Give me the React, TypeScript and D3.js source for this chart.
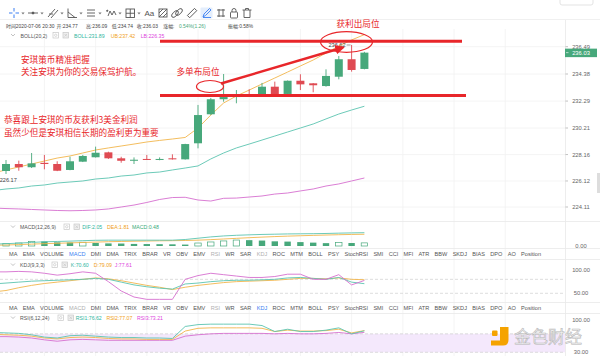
import React from 'react';
import * as d3 from 'd3';

// ---------- data (index 0 = candle just off the left edge) ----------
const openPrice = [226.50, 226.89, 227.43, 227.18, 227.52, 227.43, 226.97, 227.61, 227.95, 228.33, 227.87, 227.68, 227.82, 227.76, 227.87, 227.79, 229.03, 231.27, 232.43, 232.60, 232.76, 232.76, 233.40, 232.84, 233.86, 233.66, 233.45, 234.17, 235.52, 234.77];
const highPrice = [227.00, 227.74, 227.69, 228.28, 228.13, 227.64, 227.99, 228.13, 228.77, 228.38, 227.99, 227.94, 228.13, 227.94, 228.18, 228.99, 231.99, 232.53, 234.38, 233.14, 233.20, 233.69, 233.79, 233.88, 234.36, 233.68, 234.74, 235.77, 236.62, 236.09];
const lowPrice = [226.17, 226.66, 226.91, 227.12, 227.02, 226.88, 226.95, 227.58, 227.93, 227.82, 227.53, 227.43, 227.74, 227.72, 227.77, 227.77, 228.64, 231.21, 232.24, 232.12, 232.62, 232.74, 232.74, 232.82, 233.14, 232.97, 233.40, 233.97, 234.56, 234.74];
const closePrice = [226.85, 227.43, 227.18, 227.48, 227.43, 226.91, 227.64, 228.05, 228.30, 227.87, 227.68, 227.76, 227.76, 227.82, 227.79, 228.97, 231.21, 232.43, 232.60, 232.68, 232.68, 233.40, 232.76, 233.86, 233.58, 233.51, 234.23, 235.52, 234.69, 236.03];

const bollUB = [226.74, 226.97, 227.20, 227.43, 227.66, 227.89, 228.05, 228.28, 228.51, 228.67, 228.82, 228.97, 229.13, 229.25, 229.36, 229.48, 230.21, 231.21, 232.14, 232.68, 233.14, 233.61, 234.07, 234.53, 235.00, 235.46, 236.00, 236.54, 237.01, 237.42];
const bollMB = [225.38, 225.50, 225.58, 225.73, 225.81, 225.96, 226.04, 226.12, 226.27, 226.35, 226.50, 226.58, 226.74, 226.81, 226.97, 227.12, 227.28, 227.82, 228.28, 228.67, 228.97, 229.28, 229.59, 229.90, 230.21, 230.52, 230.91, 231.29, 231.60, 231.89];
const bollLB = [224.03, 223.99, 223.96, 223.92, 223.88, 223.84, 223.82, 223.84, 223.88, 223.96, 224.11, 224.26, 224.46, 224.69, 224.84, 224.86, 224.65, 224.57, 224.78, 224.80, 224.88, 224.96, 225.11, 225.19, 225.35, 225.50, 225.73, 225.89, 226.12, 226.35];

const macdDIF = [0.30, 0.35, 0.45, 0.55, 0.65, 0.70, 0.75, 0.82, 0.88, 0.90, 0.90, 0.90, 0.90, 0.90, 0.90, 1.00, 1.20, 1.40, 1.55, 1.65, 1.72, 1.78, 1.82, 1.86, 1.88, 1.90, 1.93, 1.98, 2.02, 2.05];
const macdDEA = [0.12, 0.15, 0.22, 0.29, 0.36, 0.42, 0.48, 0.54, 0.60, 0.66, 0.70, 0.74, 0.77, 0.80, 0.82, 0.85, 0.90, 0.98, 1.08, 1.18, 1.28, 1.37, 1.45, 1.52, 1.58, 1.64, 1.69, 1.74, 1.78, 1.81];
const macdHist = [0.36, 0.40, 0.46, 0.72, 0.70, 0.56, 0.54, 0.58, 0.46, 0.40, 0.38, 0.32, 0.30, 0.28, 0.26, 0.22, 0.46, 0.62, 0.78, 0.92, 0.90, 0.84, 0.72, 0.68, 0.60, 0.52, 0.44, 0.54, 0.46, 0.48];

const kdjK = [70, 72, 74, 76, 77, 78, 79, 80, 82, 80, 74, 68, 64, 61, 59, 70, 72, 75, 77, 78, 78, 79, 80, 83, 84, 82, 80, 84, 74, 70.6];
const kdjD = [53, 56, 62, 67, 71, 74, 77, 80, 83, 81, 77, 72, 67, 63, 58, 63, 67, 70, 73, 75, 76, 77, 78, 80, 82, 82, 81, 83, 80, 79.09];
const kdjJ = [96, 96, 97, 96, 93, 89, 92, 96, 93, 75, 55, 42, 37, 37, 37, 80, 88, 93, 90, 87, 84, 84, 86, 91, 91, 80, 80, 90, 68, 77.61];

const rsi1 = [73, 72, 71, 68, 63, 61, 66, 67, 65, 63, 62, 62, 61, 61, 60, 86, 90, 91, 91, 91, 91, 88, 75, 80, 75, 75, 78, 83, 70, 76.62];
const rsi2 = [69, 68, 67, 65, 61, 59, 62, 63, 62, 60, 59, 59, 58, 58, 58, 76, 82, 83, 83, 83, 83, 82, 75, 78, 76, 76, 77, 80, 72, 77.07];
const rsi3 = [64, 64, 63, 61, 57, 54, 57, 58, 57, 56, 56, 56, 56, 56, 56, 65, 68, 70, 71, 71, 71, 71, 70, 71, 70, 70, 71, 73, 70, 73.21];

const priceTicks = [236.49, 234.38, 232.29, 230.21, 228.16, 226.12, 224.11];
const kdjTicks = [100, 50];
const rsiTicks = [100, 30];
const indicatorTabs = ['MA', 'EMA', 'VOLUME', 'MACD', 'DMI', 'DMA', 'TRIX', 'BRAR', 'VR', 'OBV', 'EMV', 'RSI', 'WR', 'SAR', 'KDJ', 'ROC', 'MTM', 'BOLL', 'PSY', 'StochRSI', 'SMI', 'CCI', 'MFI', 'ATR', 'BBW', 'SKDJ', 'BIAS', 'DPO', 'AO', 'Position'];

// ---------- style ----------
const LAT = "'Liberation Sans', Arial, 'Noto Sans CJK SC', sans-serif";
const CJK = "'Noto Sans CJK SC', sans-serif";
const GREEN = '#47a87b';
const RED = '#df4a52';
const TEAL = '#5bc4b0';
const ORANGE = '#f2b64c';
const PINK = '#d66fcf';
const ANN = '#e8262a';
const GRID = '#f1f1f1';

const x = d3.scaleLinear().domain([0, 29]).range([-6.8, 364.4]);
const yMain = d3.scaleLinear().domain([224.11, 234.38]).range([207, 74]);
const yMacd = d3.scaleLinear().domain([0, 2.05]).range([246, 232.7]);
const yKdj = d3.scaleLinear().domain([50, 100]).range([293.3, 270]);
const yRsi = d3.scaleLinear().domain([30, 100]).range([352.3, 320]);

const mkLine = (y: (v: number) => number) =>
  d3.line<number>().x((_, i) => x(i)).y((d) => y(d));

function layoutTabs(labels: string[], font: string, x0: number, x1: number) {
  let widths = labels.map((l) => l.length * 3.2);
  try {
    const ctx = document.createElement('canvas').getContext('2d');
    if (ctx) {
      ctx.font = font;
      widths = labels.map((l) => ctx.measureText(l).width);
    }
  } catch (e) {}
  const total = d3.sum(widths);
  const gap = (x1 - x0 - total) / (labels.length - 1);
  let cur = x0;
  return widths.map((w) => {
    const p = cur;
    cur += w + gap;
    return p;
  });
}

function Caret({ cx }: { cx: number }) {
  return <path d={`M${cx - 1.6} 12.5 L${cx + 1.6} 12.5 L${cx} 14.5 Z`} fill="#777" />;
}

function Toolbar() {
  const s = { stroke: '#555', strokeWidth: 0.9, fill: 'none' } as const;
  return (
    <g>
      <g stroke="#3b7ff2" strokeWidth={1}>
        <line x1={14} y1={8} x2={14} y2={11.5} />
        <line x1={14} y1={14.5} x2={14} y2={18} />
        <line x1={9} y1={13} x2={12.5} y2={13} />
        <line x1={15.5} y1={13} x2={19} y2={13} />
      </g>
      <Caret cx={23} />
      <g {...s}>
        <line x1={28} y1={13} x2={38} y2={13} />
        <circle cx={33} cy={13} r={1} fill="#555" />
      </g>
      <Caret cx={42} />
      <g {...s}>
        <line x1={48} y1={17} x2={55} y2={9} />
        <line x1={51} y1={18} x2={58} y2={10} />
        <line x1={49} y1={14} x2={53} y2={14} />
      </g>
      <Caret cx={62} />
      <g {...s}>
        <path d="M68 8.5 L68 17.5 L77 17.5" />
        <path d="M68 12 L75 17.5" />
      </g>
      <Caret cx={81} />
      <g {...s}>
        <line x1={87} y1={10} x2={95} y2={10} />
        <line x1={87} y1={13} x2={95} y2={13} />
        <line x1={87} y1={16} x2={95} y2={16} />
      </g>
      <Caret cx={100} />
      <g {...s}>
        <path d="M106 11 L108 10 L107 12" />
        <path d="M108 16 L110 11 L112 15 L114 11 L116 15" />
      </g>
      <Caret cx={120} />
      <g {...s}>
        <rect x={126} y={9} width={8.5} height={8.5} />
        <line x1={130.25} y1={9} x2={130.25} y2={17.5} />
        <line x1={126} y1={13.25} x2={134.5} y2={13.25} />
      </g>
      <Caret cx={139} />
      <text x={144.5} y={16} fontSize={8} fontFamily={LAT} fill="#555">Aa</text>
      <g {...s}>
        <rect x={159} y={9} width={8} height={8} />
        <line x1={159} y1={13} x2={163} y2={9} />
        <line x1={159} y1={17} x2={167} y2={9} />
        <line x1={163} y1={17} x2={167} y2={13} />
      </g>
      <g {...s}>
        <ellipse cx={175} cy={14} rx={2.2} ry={4.2} transform="rotate(45 175 14)" />
        <ellipse cx={179} cy={12} rx={2.2} ry={4.2} transform="rotate(45 179 12)" />
      </g>
      <g {...s}>
        <rect x={187} y={11.5} width={10} height={3.2} transform="rotate(-45 192 13)" />
      </g>
      <rect x={200.5} y={7.5} width={12} height={11} rx={1} fill="#e4eefc" />
      <g stroke="#3b7ff2" strokeWidth={0.9} fill="none">
        <path d="M203 17 L204 14 L209.5 8.5 L211 10 L205.5 15.5 Z" />
        <line x1={203} y1={17.5} x2={211} y2={17.5} />
      </g>
      <g {...s}>
        <line x1={217} y1={10} x2={225} y2={10} />
        <line x1={217} y1={16} x2={225} y2={16} />
        <line x1={219} y1={9} x2={219} y2={17} />
        <line x1={223} y1={9} x2={223} y2={17} />
      </g>
      <g {...s}>
        <rect x={230.5} y={12} width={7} height={6} rx={0.8} />
        <path d="M232 12 V10.5 a2 2 0 0 1 4 0 V12" />
      </g>
      <g {...s}>
        <line x1={242.5} y1={10} x2={251.5} y2={10} />
        <path d="M244 10 V17.5 H250 V10" />
        <path d="M245.5 10 V8.5 H248.5 V10" />
      </g>
      <rect x={560} y={-4} width={33} height={9} rx={2} fill="#fff" stroke="#dcdcdc" strokeWidth={0.8} />
    </g>
  );
}

function LegendIcons({ x0 }: { x0: number }) {
  return (
    <g stroke="#c8c8c8" strokeWidth={0.7} fill="#fff">
      <rect x={x0} y={0} width={5.5} height={5.5} />
      <circle cx={x0 + 2.75} cy={2.75} r={1.2} />
      <rect x={x0 + 10} y={0} width={5.5} height={5.5} fill="#eee" />
      <path d={`M${x0 + 11.5} 1.5 L${x0 + 14} 4 M${x0 + 14} 1.5 L${x0 + 11.5} 4`} />
    </g>
  );
}

function Chevron({ x0, y0 }: { x0: number; y0: number }) {
  return <path d={`M${x0} ${y0} L${x0 + 2} ${y0 + 2} L${x0 + 4} ${y0}`} fill="none" stroke="#999" strokeWidth={0.6} />;
}

export default function App() {
  const tabFont = `5.6px 'Liberation Sans'`;
  const tabX = layoutTabs(indicatorTabs, tabFont, 9, 541);
  const idx = d3.range(openPrice.length);
  const gridIdx = d3.range(4, 41, 4);
  const bw = 8;

  const tabRow = (y: number, active: string) => (
    <g fontFamily={LAT} fontSize={5.6}>
      {indicatorTabs.map((t, i) => {
        let fill = '#555';
        if (t === active) fill = '#3b7ff2';
        else if (t === 'MACD' || t === 'RSI' || t === 'KDJ') fill = '#b0b0b0';
        return (
          <text key={t} x={tabX[i]} y={y} fill={fill}>{t}</text>
        );
      })}
    </g>
  );

  return (
    <svg width={600} height={356} style={{ position: 'absolute', left: 0, top: 0, background: '#fff' }}>
      <defs>
        <clipPath id="clipMain"><rect x={0} y={29} width={565} height={192} /></clipPath>
        <clipPath id="clipSub"><rect x={0} y={221} width={565} height={135} /></clipPath>
        <marker id="arrowHead" viewBox="0 0 10 10" refX={8} refY={5} markerWidth={4} markerHeight={4} orient="auto">
          <path d="M0 0 L10 5 L0 10 Z" fill={ANN} />
        </marker>
      </defs>
      <rect x={0} y={0} width={600} height={356} fill="#fff" />

      {/* toolbar */}
      <Toolbar />
      <line x1={0} x2={600} y1={19.5} y2={19.5} stroke="#f0f0f0" />

      {/* grid */}
      <g stroke={GRID} strokeWidth={0.8}>
        {gridIdx.map((g) => (
          <line key={g} x1={x(g)} x2={x(g)} y1={29} y2={356} />
        ))}
        {priceTicks.map((t) => (
          <line key={t} x1={0} x2={565} y1={yMain(t)} y2={yMain(t)} />
        ))}
      </g>

      {/* panel separators */}
      <g stroke="#e9e9e9" strokeWidth={0.8}>
        <line x1={0} x2={600} y1={221.5} y2={221.5} />
        <line x1={0} x2={600} y1={248.5} y2={248.5} />
        <line x1={0} x2={600} y1={259.5} y2={259.5} />
        <line x1={0} x2={600} y1={302.5} y2={302.5} />
        <line x1={0} x2={600} y1={313.5} y2={313.5} />
        <line x1={565.5} x2={565.5} y1={20} y2={356} />
      </g>

      {/* header */}
      <g fontFamily={LAT} fontSize={4.9} fill="#444">
        <text x={6} y={27.8}>时间2020-07-06 20:30</text>
        <text x={56.5} y={27.8}>开:234.77</text>
        <text x={86} y={27.8}>高:236.09</text>
        <text x={111.7} y={27.8}>低:234.74</text>
        <text x={136.7} y={27.8}>收:236.03</text>
        <text x={163.3} y={27.8}>涨幅:</text>
        <text x={179} y={27.8} fill={GREEN}>0.54%(1.26)</text>
        <text x={228} y={27.8}>振幅:0.58%</text>
      </g>

      {/* BOLL legend */}
      <Chevron x0={11} y0={34} />
      <text x={20.5} y={37.5} fontFamily={LAT} fontSize={5.2} fill="#555">BOLL(20,2)</text>
      <g transform="translate(53,32.5)"><LegendIcons x0={0} /></g>
      <g fontFamily={LAT} fontSize={5.2}>
        <text x={74} y={37.5} fill="#2fb5a0">BOLL:231.89</text>
        <text x={110.7} y={37.5} fill="#f0a020">UB:237.42</text>
        <text x={140.7} y={37.5} fill="#dd44dd">LB:226.35</text>
      </g>

      {/* main chart */}
      <g clipPath="url(#clipMain)">
        <path d={mkLine(yMain)(bollLB) || ''} fill="none" stroke={PINK} strokeWidth={0.9} />
        <path d={mkLine(yMain)(bollMB) || ''} fill="none" stroke={TEAL} strokeWidth={0.9} />
        <path d={mkLine(yMain)(bollUB) || ''} fill="none" stroke={ORANGE} strokeWidth={0.9} />
        {idx.map((i) => {
          const up = closePrice[i] >= openPrice[i];
          const c = up ? GREEN : RED;
          const top = yMain(Math.max(openPrice[i], closePrice[i]));
          const bot = yMain(Math.min(openPrice[i], closePrice[i]));
          return (
            <g key={i}>
              <line x1={x(i)} x2={x(i)} y1={yMain(highPrice[i])} y2={yMain(lowPrice[i])} stroke={c} strokeWidth={0.9} />
              <rect x={x(i) - bw / 2} y={top} width={bw} height={Math.max(1, bot - top)} fill={c} />
            </g>
          );
        })}
        {/* high / low markers */}
        <line x1={x(28) - 1} x2={x(28) - 5} y1={yMain(highPrice[28])} y2={yMain(highPrice[28])} stroke="#555" strokeWidth={0.6} />
        <text x={x(28) - 6} y={yMain(highPrice[28]) + 2} textAnchor="end" fontFamily={LAT} fontSize={5.6} fill="#444">{highPrice[28].toFixed(2)}</text>
        <line x1={x(0) + 1} x2={x(0) + 6} y1={yMain(lowPrice[0])} y2={yMain(lowPrice[0])} stroke="#555" strokeWidth={0.6} />
        <text x={x(0) + 6.5} y={yMain(lowPrice[0]) + 2} fontFamily={LAT} fontSize={5.6} fill="#444">{lowPrice[0].toFixed(2)}</text>
      </g>

      {/* price axis */}
      <g fontFamily={LAT} fontSize={5.8} fill="#666" textAnchor="middle">
        {priceTicks.map((t) => (
          <g key={t}>
            <line x1={565.5} x2={568} y1={yMain(t)} y2={yMain(t)} stroke="#999" strokeWidth={0.6} />
            <text x={581} y={yMain(t) + 2}>{t.toFixed(2)}</text>
          </g>
        ))}
      </g>
      <rect x={565} y={yMain(closePrice[29]) - 4} width={32} height={8.5} fill={GREEN} />
      <line x1={566} x2={568.5} y1={yMain(closePrice[29])} y2={yMain(closePrice[29])} stroke="#fff" strokeWidth={0.6} />
      <text x={581} y={yMain(closePrice[29]) + 2.2} textAnchor="middle" fontFamily={LAT} fontSize={5.8} fill="#fff">{closePrice[29].toFixed(2)}</text>
      <rect x={597} y={173} width={3} height={20} fill="#ddd" />

      {/* MACD panel */}
      <Chevron x0={11} y0={225.5} />
      <text x={20} y={229} fontFamily={LAT} fontSize={5.2} fill="#555">MACD(12,26,9)</text>
      <g transform="translate(64,224)"><LegendIcons x0={0} /></g>
      <g fontFamily={LAT} fontSize={5.2}>
        <text x={82.3} y={229} fill="#2fb5a0">DIF:2.05</text>
        <text x={107} y={229} fill="#f0a020">DEA:1.81</text>
        <text x={132} y={229} fill="#3aaa7a">MACD:0.48</text>
      </g>
      <g clipPath="url(#clipSub)">
        {idx.map((i) => {
          const hollow = i === 0 || macdHist[i] >= macdHist[i - 1];
          const top = yMacd(macdHist[i]);
          return (
            <rect key={i} x={x(i) - 3.2} y={top} width={6.4} height={yMacd(0) - top}
              fill={hollow ? '#fff' : GREEN} stroke={GREEN} strokeWidth={hollow ? 0.7 : 0} />
          );
        })}
        <path d={mkLine(yMacd)(macdDEA) || ''} fill="none" stroke={ORANGE} strokeWidth={0.9} />
        <path d={mkLine(yMacd)(macdDIF) || ''} fill="none" stroke={TEAL} strokeWidth={0.9} />
      </g>
      <text x={581} y={yMacd(0) + 1.5} textAnchor="middle" fontFamily={LAT} fontSize={5.8} fill="#666">0.00</text>

      {/* tab row 1 */}
      {tabRow(256, 'MACD')}

      {/* KDJ panel */}
      <Chevron x0={11} y0={263.5} />
      <text x={20} y={267} fontFamily={LAT} fontSize={5.2} fill="#555">KDJ(9,3,3)</text>
      <g transform="translate(52,262)"><LegendIcons x0={0} /></g>
      <g fontFamily={LAT} fontSize={5.2}>
        <text x={70.8} y={267} fill="#2fb5a0">K:70.60</text>
        <text x={93.8} y={267} fill="#f0a020">D:79.09</text>
        <text x={114.8} y={267} fill="#dd44dd">J:77.61</text>
      </g>
      <g stroke="#cfcfcf" strokeWidth={0.7} strokeDasharray="3,2">
        <line x1={0} x2={565} y1={yKdj(80)} y2={yKdj(80)} />
        <line x1={0} x2={565} y1={yKdj(50)} y2={yKdj(50)} />
      </g>
      <g clipPath="url(#clipSub)">
        <path d={mkLine(yKdj)(kdjD) || ''} fill="none" stroke={ORANGE} strokeWidth={0.9} />
        <path d={mkLine(yKdj)(kdjK) || ''} fill="none" stroke={TEAL} strokeWidth={0.9} />
        <path d={mkLine(yKdj)(kdjJ) || ''} fill="none" stroke={PINK} strokeWidth={0.9} />
      </g>
      <g fontFamily={LAT} fontSize={5.8} fill="#666" textAnchor="middle">
        {kdjTicks.map((t) => (
          <text key={t} x={581} y={yKdj(t) + 2}>{t.toFixed(2)}</text>
        ))}
      </g>

      {/* tab row 2 */}
      {tabRow(309.8, 'KDJ')}

      {/* RSI panel */}
      <Chevron x0={11} y0={316.5} />
      <text x={20} y={320} fontFamily={LAT} fontSize={5.2} fill="#555">RSI(6,12,24)</text>
      <g transform="translate(58,315)"><LegendIcons x0={0} /></g>
      <g fontFamily={LAT} fontSize={5.2}>
        <text x={75.8} y={320} fill="#2fb5a0">RSI1:76.62</text>
        <text x={106.4} y={320} fill="#f0a020">RSI2:77.07</text>
        <text x={137} y={320} fill="#dd44dd">RSI3:73.21</text>
      </g>
      <rect x={0} y={yRsi(70)} width={565} height={yRsi(30) - yRsi(70)} fill="#f4e8fc" />
      <g stroke="#cfcfcf" strokeWidth={0.7} strokeDasharray="3,2">
        <line x1={0} x2={565} y1={yRsi(70)} y2={yRsi(70)} />
        <line x1={0} x2={565} y1={yRsi(30)} y2={yRsi(30)} />
      </g>
      <g clipPath="url(#clipSub)">
        <path d={mkLine(yRsi)(rsi3) || ''} fill="none" stroke={PINK} strokeWidth={0.9} />
        <path d={mkLine(yRsi)(rsi2) || ''} fill="none" stroke={ORANGE} strokeWidth={0.9} />
        <path d={mkLine(yRsi)(rsi1) || ''} fill="none" stroke={TEAL} strokeWidth={0.9} />
      </g>
      <g fontFamily={LAT} fontSize={5.8} fill="#666" textAnchor="middle">
        {rsiTicks.map((t) => (
          <text key={t} x={581} y={yRsi(t) + 2}>{t.toFixed(2)}</text>
        ))}
      </g>

      {/* annotations */}
      <g stroke={ANN} fill="none">
        <line x1={160} x2={462} y1={41.3} y2={41.3} strokeWidth={3} />
        <line x1={160} x2={466} y1={95.5} y2={95.5} strokeWidth={3} />
        <line x1={221} y1={83.5} x2={343} y2={47.5} strokeWidth={2.4} markerEnd="url(#arrowHead)" />
        <ellipse cx={210} cy={86.5} rx={13.5} ry={6} strokeWidth={1.2} />
        <ellipse cx={346.5} cy={42} rx={26} ry={10.3} strokeWidth={1.2} />
      </g>
      <g fontFamily={CJK} fontSize={8.6} fill={ANN}>
        <text x={21} y={63}>安琪策币精准把握</text>
        <text x={21} y={75}>关注安琪为你的交易保驾护航。</text>
        <text x={4} y={123}>恭喜跟上安琪的币友获利3美金利润</text>
        <text x={4} y={135.5}>虽然少但是安琪相信长期的盈利更为重要</text>
        <text x={176.5} y={74.5}>多单布局位</text>
        <text x={336.5} y={26.5}>获利出局位</text>
      </g>

      {/* watermark */}
      <g>
        <rect x={492} y={330.5} width={5.5} height={5.5} rx={1} fill="#f5a300" />
        <path d="M500 327 H508.5 V340 Q508.5 345.5 503 345.5 H491 V340.5 H500 Z" fill="#f5a300" />
        <text x={514} y={343.3} fontFamily={CJK} fontSize={17} fill="#eeeeee" fillOpacity={0.85} stroke="#b8b8b8" strokeWidth={0.55}>金色财经</text>
      </g>
    </svg>
  );
}
